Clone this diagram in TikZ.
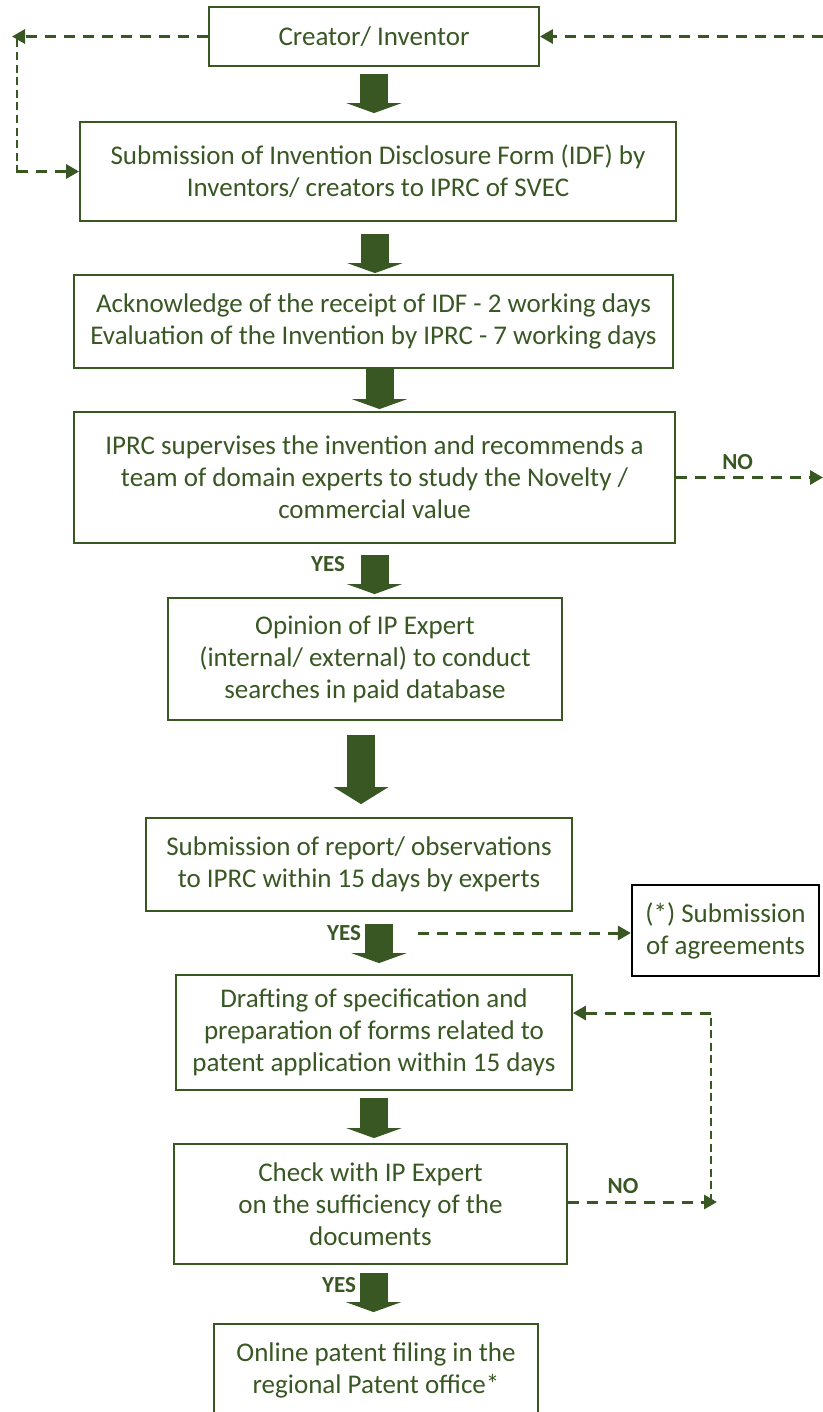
\documentclass[tikz,border=0pt]{standalone}
\usepackage{fontspec}
\setmainfont{Carlito}
\usetikzlibrary{arrows.meta,positioning,calc}
\definecolor{dkgreen}{RGB}{56,87,35}

\begin{document}
\begin{tikzpicture}[auto, x=0.5pt, y=-0.5pt,
    every node/.style={text=dkgreen, font=\fontsize{13.5}{16}\selectfont},
    box/.style={draw=dkgreen, line width=0.9pt, align=center, inner sep=0pt},
    bigarrow/.style={draw=dkgreen, line width=14pt, -{Triangle[width=27.5pt,length=5pt]}},
    dasharrow/.style={draw=dkgreen, line width=1.5pt, dash pattern=on 5.5pt off 4pt, -{Triangle[width=7pt,length=6.5pt]}},
    thindash/.style={draw=dkgreen, line width=1pt, dash pattern=on 4pt off 2.3pt},
    lbl/.style={font=\fontsize{11.5}{13}\selectfont\bfseries}]
    \useasboundingbox (0,0) rectangle (823,1412);

    \node[box, minimum width=165pt, minimum height=29.5pt] (b1) at (374,36.5) {Creator/ Inventor};
    \node[box, minimum width=298pt, minimum height=49.5pt] (b2) at (378,171.5) {Submission of Invention Disclosure Form (IDF) by\\Inventors/ creators to IPRC of SVEC};
    \node[box, minimum width=299.5pt, minimum height=46.5pt] (b3) at (373.5,321.5) {Acknowledge of the receipt of IDF - 2 working days\\Evaluation of the Invention by IPRC - 7 working days};
    \node[box, minimum width=300.5pt, minimum height=65.5pt] (b4) at (374.5,477.5) {IPRC supervises the invention and recommends a\\team of domain experts to study the Novelty /\\commercial value};
    \node[box, minimum width=197pt, minimum height=61pt] (b5) at (365,659) {Opinion of IP Expert\\(internal/ external) to conduct\\searches in paid database};
    \node[box, minimum width=213pt, minimum height=46.5pt] (b6) at (359,864.5) {Submission of report/ observations\\to IPRC within 15 days by experts};
    \node[box, draw=black, line width=1.1pt, minimum width=93.5pt, minimum height=45.5pt] (agr) at (725.5,930.5) {(*) Submission\\of agreements};
    \node[box, minimum width=198pt, minimum height=57.5pt] (b7) at (374,1032.5) {Drafting of specification and\\preparation of forms related to\\patent application within 15 days};
    \node[box, minimum width=196.5pt, minimum height=60pt] (b8) at (370.5,1204) {Check with IP Expert\\on the sufficiency of the\\documents};
    \node[box, minimum width=162pt, minimum height=46pt] (b9) at (376,1370) {Online patent filing in the\\regional Patent office*};

    \node[lbl] (y1) at (328,564) {YES};
    \node[lbl] (y2) at (344,933) {YES};
    \node[lbl] (y3) at (339,1285) {YES};

    \coordinate (lt) at (12,36.5);
    \coordinate (lb) at (17,171.5);
    \coordinate (rt) at (823,36.5);
    \coordinate (rno) at (823,477.5);
    \coordinate (ag) at (418,933);
    \coordinate (rb) at (711,1013);
    \coordinate (rn) at (717,1202);

    % main flow
    \draw[bigarrow, shorten <=3.5pt, shorten >=4pt] (b1.south) to (b1.south |- b2.north);
    \draw[bigarrow, shorten <=6pt, shorten >=0.5pt] ([xshift=-1.5pt]b2.south) to ([xshift=-1.5pt]b2.south |- b3.north);
    \draw[bigarrow, shorten >=1pt] ([xshift=3pt]b3.south) to ([xshift=3pt]b3.south |- b4.north);
    \draw[bigarrow, shorten <=5.5pt, shorten >=1.5pt] (b4.south) to (b4.south |- b5.north);
    \draw[bigarrow, -{Triangle[width=27pt,length=8.5pt]}, shorten <=7pt, shorten >=6.5pt] ([xshift=-2pt]b5.south) to ([xshift=-2pt]b5.south |- b6.north);
    \draw[bigarrow, shorten <=6pt, shorten >=5.5pt] ([xshift=10pt]b6.south) to ([xshift=10pt]b6.south |- b7.north);
    \draw[bigarrow, shorten <=3.5pt, shorten >=2.5pt] (b7.south) to (b7.south |- b8.north);
    \draw[bigarrow, shorten <=4pt, shorten >=5.5pt] ([xshift=1.5pt]b8.south) to ([xshift=1.5pt]b8.south |- b9.north);

    % side loops
    \draw[dasharrow] (b1.west) to (lt);
    \draw[thindash] (lt -| lb) ++(0,3) to ([yshift=-1.5pt]lb);
    \draw[dasharrow] (lb) to (b2.west);
    \draw[dasharrow] (rt) to (b1.east);
    \draw[dasharrow] (b4.east) to node[lbl, pos=0.42, above] {NO} (rno);
    \draw[dasharrow] (ag) to (ag -| agr.west);
    \draw[dasharrow] ([yshift=1pt]b8.east) to node[lbl, pos=0.37, above] {NO} (rn);
    \draw[thindash] (rn -| rb) to (rb);
    \draw[dasharrow] (rb) to (rb -| b7.east);
\end{tikzpicture}
\end{document}
